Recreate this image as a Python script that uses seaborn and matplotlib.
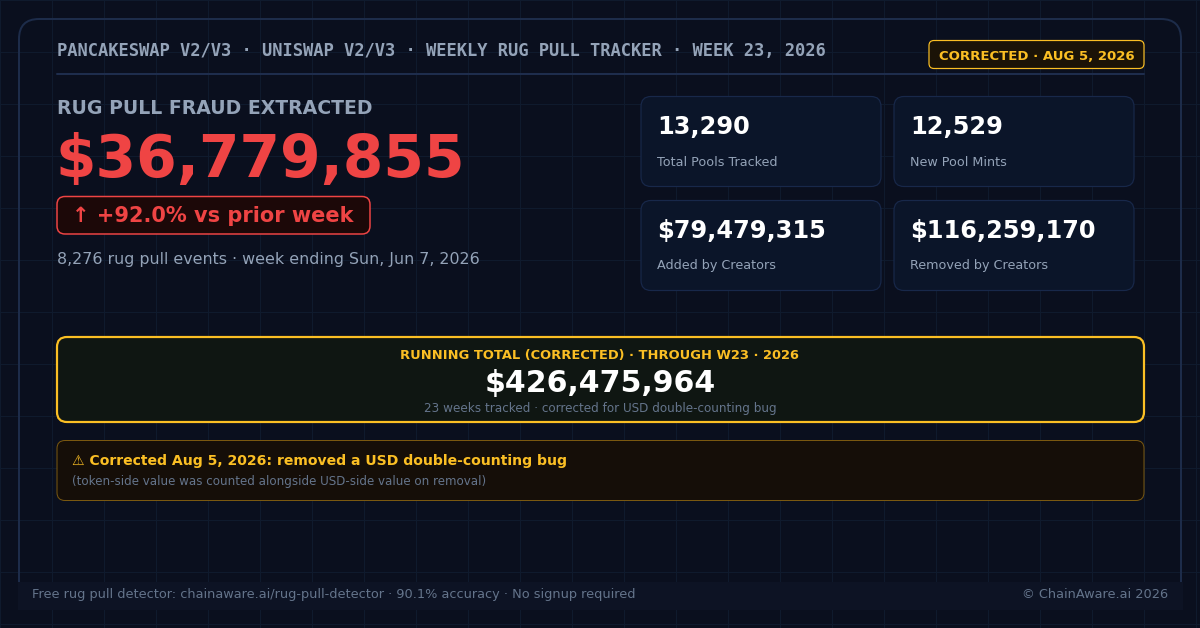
import numpy as np
import pandas as pd
import seaborn as sns
import matplotlib
matplotlib.use("Agg")
import matplotlib.pyplot as plt
from matplotlib.patches import FancyBboxPatch, Rectangle

# ---------------- data ----------------
header_title = "PANCAKESWAP V2/V3 · UNISWAP V2/V3 · WEEKLY RUG PULL TRACKER · WEEK 23, 2026"
badge_text = "CORRECTED · AUG 5, 2026"
kpi_label = "RUG PULL FRAUD EXTRACTED"
kpi_value = 36779855
change_pct = 92.0
rug_events = 8276
week_ending = "Sun, Jun 7, 2026"
stat_labels = ["Total Pools Tracked", "New Pool Mints", "Added by Creators", "Removed by Creators"]
stat_values = [13290, 12529, 79479315, 116259170]
stat_is_usd = [False, False, True, True]
running_title = "RUNNING TOTAL (CORRECTED) · THROUGH W23 · 2026"
running_total = 426475964
weeks_tracked = 23
running_note = "corrected for USD double-counting bug"
warn_title = "⚠ Corrected Aug 5, 2026: removed a USD double-counting bug"
warn_note = "(token-side value was counted alongside USD-side value on removal)"
footer_left = "Free rug pull detector: chainaware.ai/rug-pull-detector · 90.1% accuracy · No signup required"
footer_right = "© ChainAware.ai 2026"

# ---------------- style ----------------
BG = "#0a0f1e"
GRID = "#0f1a2d"
BORDER = "#1d2c4a"
SLATE = "#94a3b8"
DIM = "#64748b"
RED = "#ef4444"
GOLD = "#fbbf24"
WHITE = "#ffffff"

sns.set_theme(style="dark", rc={"axes.facecolor": BG, "figure.facecolor": BG})
plt.rcParams["font.family"] = ["DejaVu Sans"]

W, H = 1200, 628
fig = plt.figure(figsize=(W / 100, H / 100), dpi=100)
ax = fig.add_axes([0, 0, 1, 1])
ax.set_xlim(0, W)
ax.set_ylim(H, 0)
ax.set_xticks(np.arange(0, W + 1, 52))
ax.set_yticks(np.arange(0, H + 1, 52))
ax.tick_params(length=0, labelbottom=False, labelleft=False)
ax.grid(True, color=GRID, lw=0.8)
for s in ax.spines.values():
    s.set_visible(False)
ax.set_axisbelow(True)

PX = 0.72  # points per pixel


def rbox(x, y, w, h, r, fc, ec, lw_px, z=2):
    p = FancyBboxPatch((x, y), w, h, boxstyle=f"round,pad=0,rounding_size={r}",
                       fc=fc, ec=ec, lw=lw_px * PX, zorder=z)
    ax.add_patch(p)
    return p


def txt(x, y, s, size_px, color, weight="normal", ha="left", family=None, z=5):
    kw = {}
    if family:
        kw["family"] = family
    ax.text(x, y, s, fontsize=size_px * PX, color=color, fontweight=weight,
            ha=ha, va="baseline", zorder=z, **kw)


# outer card
rbox(19, 19, 1162, 590, 20, "none", BORDER, 2, z=1)
# footer band
ax.add_patch(Rectangle((18, 582), 1165, 28, fc="#0d1324", ec="none", zorder=3))

# header
txt(57, 56, header_title, 17.1, SLATE, weight="bold", family="DejaVu Sans Mono")
ax.plot([57, 1144], [74, 74], color="#1e2d4d", lw=2 * PX, zorder=2)
rbox(929, 40.5, 215, 28, 5, "#1b1307", GOLD, 1.2)
txt(1036.5, 59.5, badge_text, 13.2, GOLD, weight="bold", ha="center")

# KPI
txt(57, 114, kpi_label, 18.9, SLATE, weight="bold")
txt(55, 177, f"${kpi_value:,}", 58.3, RED, weight="bold")
rbox(57, 196.5, 313, 37.5, 8, "#1c0808", RED, 1.5)
txt(72, 222.5, f"↑ +{change_pct:.1f}% vs prior week", 20.9, RED, weight="bold")
txt(57, 264, f"{rug_events:,} rug pull events · week ending {week_ending}", 15.9, SLATE)

# stat cards
card_x = [641, 894]
card_y = [96.5, 200.5]
for i, (lab, val, usd) in enumerate(zip(stat_labels, stat_values, stat_is_usd)):
    cx = card_x[i % 2]
    cy = card_y[i // 2]
    rbox(cx, cy, 240, 90, 10, "#0b1529", "#18284a", 1.2)
    vs = f"${val:,}" if usd else f"{val:,}"
    txt(cx + 16, cy + 37, vs, 24.0, WHITE, weight="bold")
    txt(cx + 16, cy + 69, lab, 12.8, SLATE)

# running total
rbox(57, 337, 1087, 85, 10, "#0f1612", GOLD, 2.2)
txt(600, 359, running_title, 13.0, GOLD, weight="bold", ha="center")
txt(600, 392, f"${running_total:,}", 30.0, WHITE, weight="bold", ha="center")
txt(600, 412, f"{weeks_tracked} weeks tracked · {running_note}", 12.0, DIM, ha="center")

# warning
rbox(57, 440.5, 1087, 60, 8, "#150e08", "#7a5810", 1.0)
txt(72, 465, warn_title, 14.0, GOLD, weight="bold")
txt(72, 485, warn_note, 11.9, DIM)

# footer text
txt(32, 598, footer_left, 12.9, DIM)
txt(1168, 598, footer_right, 12.9, DIM, ha="right")

fig.savefig("out.png", dpi=100, facecolor=BG)
